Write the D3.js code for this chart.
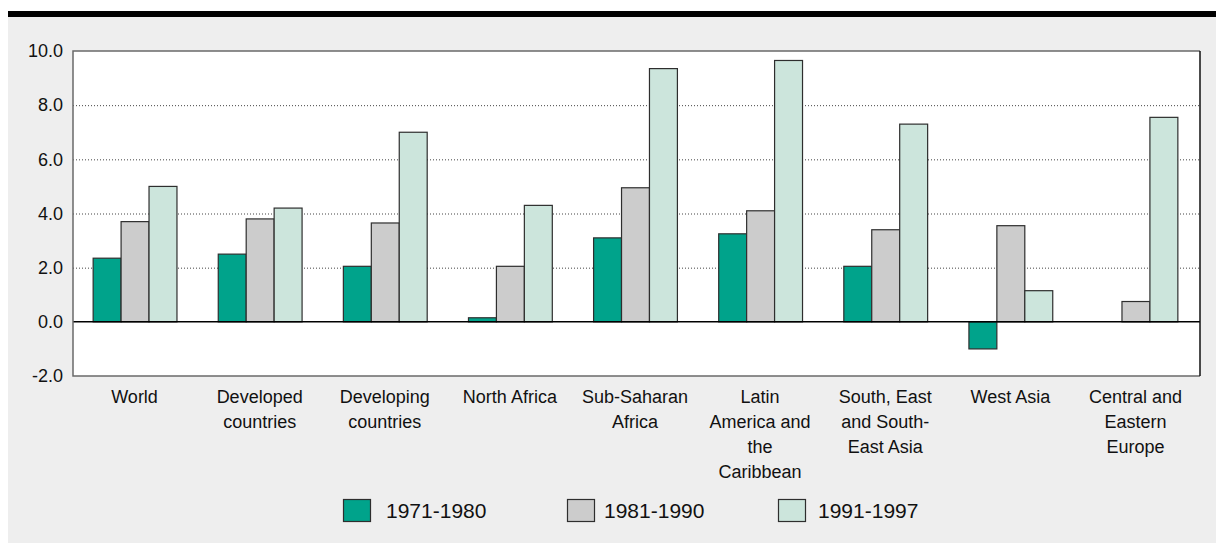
<!DOCTYPE html>
<html>
<head>
<meta charset="utf-8">
<script src="https://cdn.jsdelivr.net/npm/d3@7"></script>
<style>
  html, body { margin: 0; padding: 0; background: #ffffff; }
  svg { display: block; font-family: "Liberation Sans", Arial, Helvetica, sans-serif; }
</style>
</head>
<body>
<svg id="chart" width="1216" height="543"></svg>
<script>
// Regions shown along the x axis (line breaks mark wrapped labels)
const categories = [
  "World",
  "Developed\ncountries",
  "Developing\ncountries",
  "North Africa",
  "Sub-Saharan\nAfrica",
  "Latin\nAmerica and\nthe\nCaribbean",
  "South, East\nand South-\nEast Asia",
  "West Asia",
  "Central and\nEastern\nEurope"
];

// Average annual growth rate (%) per period
const periods = ["1971-1980", "1981-1990", "1991-1997"];
const values1971_1980 = [2.35, 2.5, 2.05, 0.15, 3.1, 3.25, 2.05, -1.0, null];
const values1981_1990 = [3.7, 3.8, 3.65, 2.05, 4.95, 4.1, 3.4, 3.55, 0.75];
const values1991_1997 = [5.0, 4.2, 7.0, 4.3, 9.35, 9.65, 7.3, 1.15, 7.55];

const yTicks = [-2, 0, 2, 4, 6, 8, 10];
const periodColors = ["#00a38b", "#cccccc", "#cce5dc"];

const seriesValues = [values1971_1980, values1981_1990, values1991_1997];

const svg = d3.select("#chart");
const W = 1216, H = 543;

// Panel background and heavy top rule
svg.append("rect").attr("x", 8).attr("y", 16).attr("width", W - 8).attr("height", H - 16).attr("fill", "#eeeeee");
svg.append("rect").attr("x", 8).attr("y", 11).attr("width", W - 8).attr("height", 6).attr("fill", "#000000");

const plot = { left: 73, right: 1200, top: 51, bottom: 376 };

const x = d3.scaleBand()
  .domain(d3.range(categories.length))
  .range([72, 1198])
  .paddingInner(0.33)
  .paddingOuter(0.165);

const xSub = d3.scaleBand()
  .domain(d3.range(periods.length))
  .range([0, x.bandwidth()])
  .padding(0);

const y = d3.scaleLinear().domain([-2, 10]).range([plot.bottom, plot.top]);

// Plot area
svg.append("rect")
  .attr("x", plot.left).attr("y", plot.top)
  .attr("width", plot.right - plot.left).attr("height", plot.bottom - plot.top)
  .attr("fill", "#ffffff");

// Dotted gridlines
svg.append("g")
  .selectAll("line")
  .data(yTicks.filter(t => t > -2 && t < 10 && t !== 0))
  .join("line")
  .attr("x1", plot.left).attr("x2", plot.right)
  .attr("y1", d => y(d) + 0.5).attr("y2", d => y(d) + 0.5)
  .attr("stroke", "#444")
  .attr("stroke-width", 1)
  .attr("stroke-dasharray", "1,2");

// Bars
const groups = svg.append("g")
  .selectAll("g")
  .data(categories.map((c, i) => i))
  .join("g")
  .attr("transform", i => `translate(${x(i)},0)`);

groups.selectAll("rect")
  .data(i => seriesValues.map((vals, s) => ({ s, v: vals[i] })).filter(d => d.v !== null))
  .join("rect")
  .attr("x", d => xSub(d.s) + 0.5)
  .attr("width", xSub.bandwidth())
  .attr("y", d => Math.min(y(d.v), y(0)))
  .attr("height", d => Math.abs(y(d.v) - y(0)))
  .attr("fill", d => periodColors[d.s])
  .attr("stroke", "#2e2e2e")
  .attr("stroke-width", 1.2);

// Zero line
svg.append("line")
  .attr("x1", plot.left).attr("x2", plot.right)
  .attr("y1", y(0)).attr("y2", y(0))
  .attr("stroke", "#000").attr("stroke-width", 1.5);

// Plot frame
svg.append("path")
  .attr("d", `M${plot.right},${plot.top}H${plot.left}V${plot.bottom}H${plot.right}`)
  .attr("fill", "none").attr("stroke", "#6a6a6a").attr("stroke-width", 1.5);
svg.append("line")
  .attr("x1", plot.right).attr("x2", plot.right)
  .attr("y1", plot.top).attr("y2", plot.bottom)
  .attr("stroke", "#111").attr("stroke-width", 1.5);

// Y axis labels (plain hyphen for negatives)
const yAxis = d3.axisLeft(y)
  .tickValues(yTicks)
  .tickFormat(d => d.toFixed(1))
  .tickSize(0)
  .tickPadding(10);
const yg = svg.append("g").attr("transform", `translate(${plot.left},0)`).call(yAxis);
yg.select(".domain").remove();
yg.selectAll("text")
  .attr("font-size", 18)
  .attr("font-family", "'Liberation Sans', Arial, sans-serif")
  .attr("fill", "#111");

// Category labels (multi-line)
const labels = svg.append("g")
  .selectAll("text")
  .data(categories.map((c, i) => ({ c, i })))
  .join("text")
  .attr("x", d => x(d.i) + x.bandwidth() / 2)
  .attr("y", 403)
  .attr("text-anchor", "middle")
  .attr("font-size", 18)
  .attr("fill", "#111");
labels.selectAll("tspan")
  .data(d => d.c.split("\n").map(line => ({ line, x: x(d.i) + x.bandwidth() / 2 })))
  .join("tspan")
  .attr("x", d => d.x)
  .attr("dy", (d, k) => k === 0 ? 0 : 25)
  .text(d => d.line);

// Legend
const legendX = [343, 567, 778];
const legend = svg.append("g")
  .selectAll("g")
  .data(periods.map((p, s) => ({ p, s })))
  .join("g")
  .attr("transform", d => `translate(${legendX[d.s]},499)`);
legend.append("rect")
  .attr("x", 0.5).attr("y", 0.5)
  .attr("width", 27).attr("height", 22)
  .attr("fill", d => periodColors[d.s])
  .attr("stroke", "#2e2e2e").attr("stroke-width", 1.2);
legend.append("text")
  .attr("x", d => d.s === 0 ? 43 : (d.s === 1 ? 37 : 40))
  .attr("y", 19)
  .attr("font-size", 21)
  .attr("fill", "#111")
  .text(d => d.p);
</script>
</body>
</html>
